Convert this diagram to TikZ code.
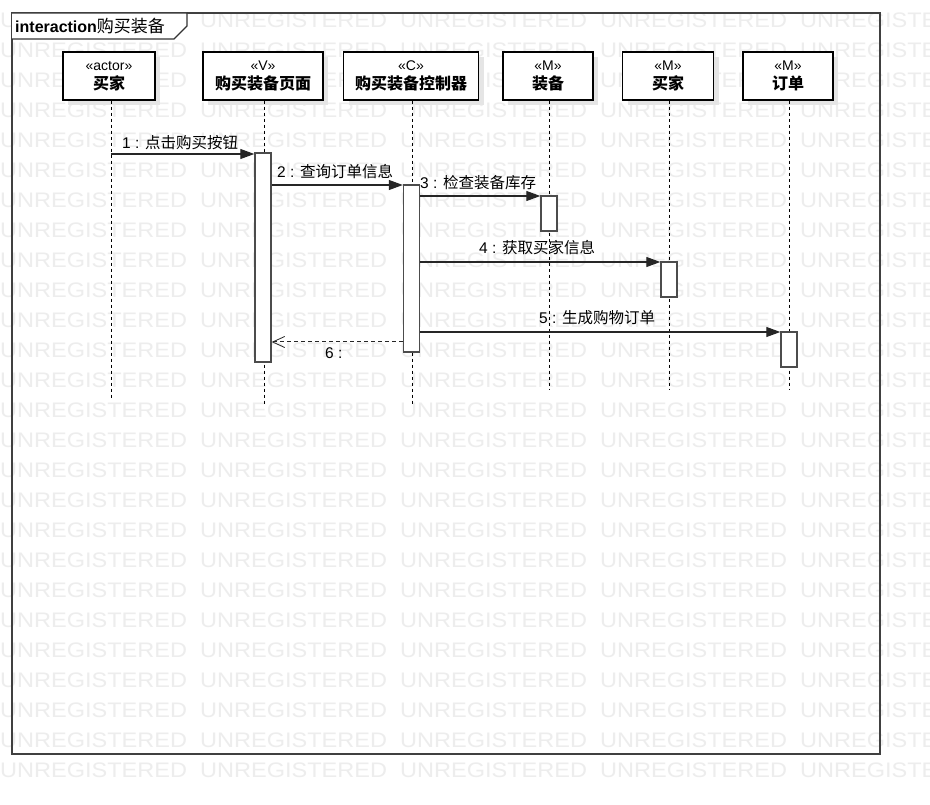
\documentclass[tikz,border=0pt]{standalone}
\usepackage{fontspec}
\setmainfont{Liberation Sans}
\newfontfamily\cjk{Noto Sans CJK SC}
\usetikzlibrary{arrows.meta}
\begin{document}
\begin{tikzpicture}[x=1pt,y=-1pt,
  head/.style={draw=black, line width=1.2pt, fill=white, minimum height=48pt, inner sep=0pt, align=center,
    font=\fontsize{14}{19}\selectfont},
  shadow/.style={fill=black!10, draw=none},
  lifeline/.style={draw=black, line width=0.9pt, dash pattern=on 3.5pt off 2.5pt},
  bar/.style={draw=black!70, line width=1.4pt, fill=white, minimum width=16pt, inner sep=0pt},
  msg/.style={draw=black!85, line width=1.1pt, -{Triangle[length=14pt,width=10pt]}},
  ret/.style={draw=black!85, line width=1pt, dash pattern=on 4pt off 3pt, -{Straight Barb[length=12pt,width=11pt,line width=0.8pt]}},
  lbl/.style={anchor=west, inner sep=0pt, font=\fontsize{15.5}{17}\selectfont},
  wm/.style={anchor=west, inner sep=0pt, text=black!7, font=\fontsize{21}{21}\selectfont}
]
\useasboundingbox (0,0) rectangle (930,805);
\fill[white] (0,0) rectangle (930,805);
% watermark
\foreach \r in {0,...,25}{
  \foreach \c in {0,200,400,600,800}{
    \node[wm] at (\c,{20+30*\r}) {\scalebox{1.12}[1]{UNREGISTERED}};
  }
}
% frame
\draw[black!75, line width=1.5pt] (12,13) rectangle (880,754);
\filldraw[fill=white, draw=black!80, line width=1.1pt] (12,13) -- (187,13) -- (187,26) -- (174,39) -- (12,39);
\node[anchor=west, inner sep=0pt] (title) at (15,26) {\fontsize{16}{17}\selectfont\bfseries interaction\mdseries\cjk\fontsize{17}{17}\selectfont 购买装备};
% shadows
\foreach \cx/\w in {109/92,263/120,411/135,548/90,668/91,788/90}{
  \fill[shadow] ({\cx-\w/2+5},57) rectangle ({\cx+\w/2+5},105);
}
% heads
\node[head, minimum width=92pt]  (h1) at (109,76) {«actor»\\{\cjk\bfseries\fontsize{16}{19}\selectfont 买家}};
\node[head, minimum width=120pt] (h2) at (263,76) {«V»\\{\cjk\bfseries\fontsize{16}{19}\selectfont 购买装备页面}};
\node[head, minimum width=135pt] (h3) at (411,76) {«C»\\{\cjk\bfseries\fontsize{16}{19}\selectfont 购买装备控制器}};
\node[head, minimum width=90pt]  (h4) at (548,76) {«M»\\{\cjk\bfseries\fontsize{16}{19}\selectfont 装备}};
\node[head, minimum width=91pt]  (h5) at (668,76) {«M»\\{\cjk\bfseries\fontsize{16}{19}\selectfont 买家}};
\node[head, minimum width=90pt]  (h6) at (788,76) {«M»\\{\cjk\bfseries\fontsize{16}{19}\selectfont 订单}};
% lifeline ends
\coordinate (e1) at (111,400);
\coordinate (e2) at (264,405);
\coordinate (e3) at (412,405);
\coordinate (e4) at (549,390);
\coordinate (e5) at (669,390);
\coordinate (e6) at (789,390);
\draw[lifeline] (h1.south -| e1) -- (e1);
\draw[lifeline] (h2.south -| e2) -- (e2);
\draw[lifeline] (h3.south -| e3) -- (e3);
\draw[lifeline] (h4.south -| e4) -- (e4);
\draw[lifeline] (h5.south -| e5) -- (e5);
\draw[lifeline] (h6.south -| e6) -- (e6);
% activation bars
\node[bar, minimum height=209pt] (b2) at (263,257.5) {};
\node[bar, minimum height=167pt] (b3) at (411.5,268.5) {};
\node[bar, minimum height=35pt]  (b4) at (549,213.5) {};
\node[bar, minimum height=35pt]  (b5) at (669,279.5) {};
\node[bar, minimum height=35pt]  (b6) at (789,349.5) {};
% messages
\coordinate (s1) at (111,154);
\draw[msg] (s1) -- (s1 -| b2.west);
\node[lbl] (l1) at (122,143) {1 : \cjk 点击购买按钮};
\coordinate (s2) at (263,185);
\draw[msg] (s2 -| b2.east) -- (s2 -| b3.west);
\node[lbl] (l2) at (277,172) {2 : \cjk 查询订单信息};
\coordinate (s3) at (411,196);
\draw[msg] (s3 -| b3.east) -- (s3 -| b4.west);
\node[lbl] (l3) at (420,183) {3 : \cjk 检查装备库存};
\coordinate (s4) at (411,262);
\draw[msg] (s4 -| b3.east) -- (s4 -| b5.west);
\node[lbl] (l4) at (479,248) {4 : \cjk 获取买家信息};
\coordinate (s5) at (411,332);
\draw[msg] (s5 -| b3.east) -- (s5 -| b6.west);
\node[lbl] (l5) at (539,318) {5 : \cjk 生成购物订单};
\coordinate (s6) at (411,342);
\draw[ret] (s6 -| b3.west) -- (s6 -| b2.east);
\node[lbl] (l6) at (325,353) {6 :};
\end{tikzpicture}
\end{document}
